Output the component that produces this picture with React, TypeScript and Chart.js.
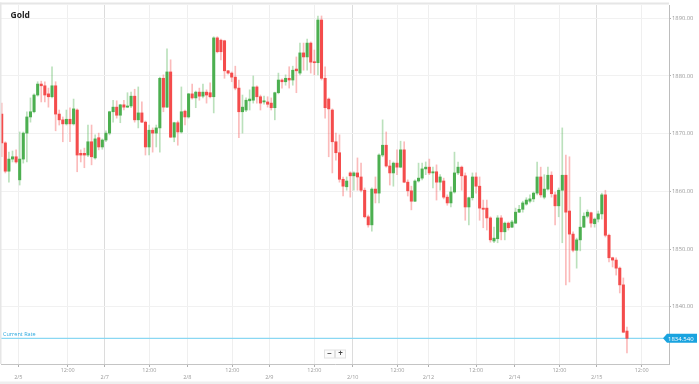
import React, { useEffect, useRef } from 'react';
import { Chart, registerables } from 'chart.js';

Chart.register(...registerables);

const chartTitle = 'Gold';
const currentRateLabel = 'Current Rate';
const currentRate = 1834.54;

const openP = [
  1873.4, 1868.4, 1863.5, 1865.6, 1866.0, 1862.0, 1865.6, 1870.1, 1872.9, 1873.8,
  1876.7, 1878.6, 1878.3, 1876.9, 1876.4, 1878.3, 1873.4, 1872.4, 1871.7, 1872.5,
  1871.7, 1874.1, 1866.6, 1866.6, 1866.3, 1868.6, 1865.8, 1869.3, 1867.7, 1868.9,
  1870.1, 1873.8, 1874.6, 1873.2, 1875.0, 1874.6, 1874.8, 1876.5, 1872.4, 1873.6,
  1872.0, 1867.7, 1870.6, 1870.1, 1871.0, 1879.6, 1874.6, 1880.7, 1869.4, 1871.9,
  1870.3, 1873.9, 1872.9, 1876.9, 1876.2, 1877.2, 1876.5, 1877.2, 1877.1, 1876.4,
  1886.6, 1886.2, 1886.1, 1880.9, 1880.5, 1879.8, 1877.9, 1873.8, 1874.1, 1875.7,
  1875.8, 1878.1, 1876.4, 1875.5, 1875.5, 1875.3, 1874.5, 1877.1, 1879.3, 1879.0,
  1879.6, 1879.3, 1881.2, 1880.5, 1884.0, 1883.3, 1885.7, 1882.4, 1882.3, 1889.7,
  1879.6, 1876.0, 1874.1, 1868.6, 1866.7, 1862.1, 1860.8, 1863.2, 1862.7, 1863.2,
  1862.5, 1860.2, 1855.6, 1854.2, 1860.4, 1859.7, 1866.3, 1868.0, 1864.4, 1863.2,
  1864.9, 1864.2, 1867.2, 1861.6, 1860.1, 1858.3, 1861.8, 1862.3, 1863.9, 1864.2,
  1863.2, 1863.4, 1861.6, 1861.8, 1859.0, 1858.0, 1859.9, 1863.2, 1864.2, 1862.7,
  1857.3, 1858.9, 1862.5, 1860.9, 1857.1, 1857.1, 1855.4, 1851.4, 1851.8, 1855.4,
  1853.0, 1854.5, 1853.8, 1854.5, 1856.4, 1856.9, 1857.8, 1858.3, 1858.7, 1859.7,
  1862.5, 1859.0, 1860.4, 1862.8, 1859.4, 1857.5, 1860.2, 1862.8, 1856.6, 1852.6,
  1849.8, 1851.6, 1853.8, 1855.7, 1856.3, 1854.4, 1855.2, 1856.1, 1859.4, 1852.4,
  1848.5, 1848.1, 1846.7, 1843.8, 1835.8,
];

const highP = [
  1875.3, 1868.6, 1866.8, 1867.0, 1867.2, 1870.3, 1870.3, 1873.8, 1876.2, 1876.9,
  1879.0, 1879.1, 1879.0, 1877.9, 1881.6, 1879.0, 1874.1, 1872.9, 1874.1, 1874.5,
  1876.0, 1874.3, 1867.2, 1867.5, 1871.5, 1871.5, 1869.8, 1870.1, 1869.1, 1870.5,
  1873.9, 1875.8, 1875.7, 1875.1, 1875.8, 1877.1, 1877.2, 1877.7, 1878.1, 1875.5,
  1872.2, 1871.5, 1871.0, 1871.5, 1879.8, 1880.2, 1884.7, 1882.8, 1872.0, 1872.2,
  1878.1, 1874.1, 1877.0, 1878.6, 1877.4, 1877.9, 1878.6, 1877.6, 1878.8, 1886.8,
  1886.8, 1886.4, 1886.2, 1881.0, 1880.7, 1881.7, 1879.3, 1876.7, 1876.2, 1877.6,
  1880.0, 1878.3, 1876.7, 1876.5, 1876.4, 1876.2, 1877.2, 1880.5, 1879.5, 1880.2,
  1881.6, 1881.7, 1883.3, 1885.7, 1885.7, 1886.4, 1885.9, 1884.5, 1890.4, 1890.4,
  1881.6, 1876.2, 1874.3, 1870.1, 1869.8, 1862.5, 1862.5, 1863.4, 1863.4, 1865.8,
  1864.9, 1860.6, 1855.9, 1860.6, 1862.5, 1866.5, 1872.4, 1870.3, 1865.4, 1865.1,
  1867.2, 1868.7, 1868.6, 1862.0, 1860.9, 1862.0, 1864.9, 1864.9, 1865.1, 1865.6,
  1864.2, 1864.6, 1862.9, 1862.3, 1859.4, 1860.8, 1866.8, 1865.1, 1864.4, 1863.2,
  1859.0, 1863.2, 1863.2, 1862.5, 1858.5, 1858.5, 1855.6, 1853.8, 1855.8, 1855.8,
  1854.7, 1854.7, 1855.0, 1857.1, 1857.6, 1858.3, 1858.9, 1859.4, 1859.9, 1865.1,
  1864.2, 1862.9, 1864.2, 1863.4, 1859.9, 1860.6, 1871.0, 1866.3, 1866.0, 1853.0,
  1851.9, 1859.0, 1856.3, 1856.8, 1856.4, 1855.4, 1856.6, 1859.7, 1860.2, 1852.6,
  1848.6, 1848.5, 1846.9, 1845.0, 1836.5,
];

const lowP = [
  1866.0, 1863.2, 1861.6, 1865.1, 1864.9, 1861.1, 1864.9, 1865.1, 1872.0, 1873.6,
  1876.5, 1875.5, 1875.5, 1874.6, 1876.2, 1870.5, 1871.5, 1868.6, 1871.5, 1868.6,
  1871.5, 1863.4, 1865.1, 1864.1, 1866.0, 1864.6, 1865.6, 1867.2, 1867.3, 1868.6,
  1869.8, 1872.0, 1872.7, 1871.9, 1874.1, 1874.5, 1874.5, 1872.0, 1871.0, 1871.9,
  1866.3, 1866.3, 1866.8, 1867.7, 1866.8, 1873.8, 1874.5, 1869.3, 1868.6, 1868.0,
  1870.1, 1871.5, 1872.7, 1876.0, 1874.5, 1875.8, 1876.2, 1875.3, 1876.2, 1873.6,
  1884.0, 1882.8, 1879.6, 1880.3, 1879.0, 1877.6, 1869.3, 1870.1, 1873.8, 1874.1,
  1875.3, 1875.3, 1874.1, 1875.1, 1874.6, 1874.1, 1872.4, 1876.9, 1877.9, 1878.4,
  1877.9, 1878.4, 1877.1, 1880.2, 1881.0, 1881.0, 1880.5, 1880.2, 1880.2, 1879.3,
  1872.7, 1866.0, 1863.2, 1865.4, 1861.6, 1859.2, 1860.2, 1859.0, 1860.2, 1860.2,
  1859.9, 1855.4, 1853.8, 1853.1, 1858.0, 1858.0, 1866.0, 1864.2, 1861.1, 1860.9,
  1862.9, 1864.1, 1861.5, 1859.2, 1856.8, 1858.2, 1861.6, 1862.0, 1862.9, 1862.9,
  1860.6, 1858.5, 1860.2, 1858.7, 1857.6, 1857.3, 1859.7, 1862.9, 1860.2, 1855.0,
  1854.2, 1858.5, 1859.7, 1855.0, 1853.7, 1853.3, 1851.2, 1851.1, 1851.1, 1851.6,
  1851.6, 1853.3, 1853.7, 1854.4, 1856.3, 1856.4, 1857.6, 1858.0, 1858.2, 1859.4,
  1859.0, 1858.7, 1860.2, 1859.0, 1854.2, 1855.6, 1851.1, 1843.8, 1844.3, 1849.5,
  1846.7, 1849.7, 1853.7, 1855.4, 1853.8, 1853.8, 1854.7, 1855.2, 1852.1, 1847.8,
  1846.9, 1845.5, 1842.4, 1835.5, 1832.0,
];

const closeP = [
  1868.4, 1863.5, 1865.6, 1866.0, 1865.1, 1865.6, 1870.1, 1872.9, 1873.8, 1876.7,
  1878.6, 1878.3, 1876.7, 1876.4, 1878.3, 1873.4, 1872.4, 1871.7, 1872.5, 1871.7,
  1874.3, 1866.3, 1866.3, 1866.3, 1868.6, 1866.0, 1869.1, 1867.7, 1868.9, 1870.1,
  1873.8, 1874.6, 1873.2, 1875.0, 1874.6, 1874.8, 1876.5, 1872.4, 1873.6, 1872.0,
  1867.7, 1870.6, 1870.1, 1871.0, 1879.6, 1874.6, 1880.7, 1869.4, 1871.9, 1870.3,
  1873.8, 1872.9, 1876.9, 1876.2, 1877.2, 1876.5, 1877.2, 1876.7, 1876.4, 1886.6,
  1884.2, 1884.2, 1880.9, 1880.5, 1879.8, 1877.9, 1873.8, 1874.6, 1875.8, 1876.0,
  1878.1, 1876.4, 1875.3, 1875.7, 1875.1, 1874.5, 1877.1, 1879.3, 1879.0, 1879.6,
  1879.3, 1881.0, 1880.9, 1884.0, 1883.3, 1885.7, 1882.4, 1882.3, 1889.7, 1879.6,
  1874.5, 1874.3, 1868.6, 1866.7, 1862.1, 1860.9, 1861.8, 1862.7, 1863.2, 1862.5,
  1860.2, 1855.6, 1854.2, 1860.4, 1859.7, 1866.3, 1868.0, 1864.4, 1863.2, 1864.9,
  1864.2, 1867.2, 1861.6, 1860.1, 1858.3, 1861.8, 1862.3, 1863.9, 1864.2, 1863.2,
  1863.4, 1861.6, 1862.5, 1859.0, 1858.0, 1859.9, 1863.2, 1864.2, 1862.7, 1857.3,
  1858.9, 1862.5, 1860.9, 1857.1, 1856.9, 1855.4, 1851.6, 1851.9, 1855.4, 1853.0,
  1854.5, 1853.7, 1854.7, 1856.4, 1856.9, 1858.0, 1858.5, 1858.7, 1859.7, 1862.5,
  1859.4, 1860.4, 1862.8, 1859.6, 1857.5, 1860.2, 1862.8, 1856.4, 1852.6, 1849.8,
  1851.6, 1853.8, 1855.7, 1856.4, 1854.5, 1855.2, 1856.1, 1859.4, 1852.4, 1848.5,
  1848.1, 1846.7, 1843.8, 1835.6, 1834.54,
];

// time axis ticks, expressed in candle units
const tickPos = [4.62, 18.37, 28.67, 41.08, 51.66, 64.18, 74.48, 87.0, 97.69, 110.1, 118.73, 132.0, 142.67, 155.2, 165.6, 178.1];
const tickText = ['2/5', '12:00', '2/7', '12:00', '2/8', '12:00', '2/9', '12:00', '2/10', '12:00', '2/12', '12:00', '2/14', '12:00', '2/15', '12:00'];
const yTicks = [1840, 1850, 1860, 1870, 1880, 1890];

const UP = '#4caf50';
const DOWN = '#f44c4c';
const UP_WICK = 'rgba(76,175,80,0.38)';
const DOWN_WICK = 'rgba(244,76,76,0.38)';
const FONT = '"Open Sans", "DejaVu Sans", sans-serif';
const strongLines = new Set(['2/7', '2/10', '2/15']);

export default function App() {
  const ref = useRef<HTMLCanvasElement | null>(null);

  useEffect(() => {
    document.body.style.margin = '0';
    const canvas = ref.current;
    if (!canvas) return;
    const idx = openP.map((_, i) => i);
    const isUp = (i: number) => closeP[i] >= openP[i];

    const overlay = {
      id: 'overlay',
      beforeDraw(chart: any) {
        const ctx = chart.ctx;
        ctx.save();
        ctx.fillStyle = '#ffffff';
        ctx.fillRect(0, 0, chart.width, chart.height);
        ctx.restore();
      },
      beforeDatasetsDraw(chart: any) {
        const ctx = chart.ctx;
        const a = chart.chartArea;
        const y = chart.scales.y.getPixelForValue(currentRate);
        ctx.save();
        ctx.strokeStyle = '#8ad8f3';
        ctx.lineWidth = 1.2;
        ctx.beginPath();
        ctx.moveTo(a.left, y);
        ctx.lineTo(a.right, y);
        ctx.stroke();
        ctx.fillStyle = '#2aa8df';
        ctx.font = '5.5px ' + FONT;
        ctx.textBaseline = 'bottom';
        ctx.textAlign = 'left';
        ctx.fillText(currentRateLabel, a.left + 2, y - 1);
        ctx.restore();
      },
      afterDraw(chart: any) {
        const ctx = chart.ctx;
        const a = chart.chartArea;
        ctx.save();
        // frame
        ctx.fillStyle = '#e6e6e6';
        ctx.fillRect(0, 2.5, a.right, 2);
        ctx.fillRect(0, 2.5, 1.5, a.bottom - 2.5);
        ctx.fillStyle = '#efefef';
        ctx.fillRect(0, 381.5, chart.width, 2.5);
        // title
        ctx.fillStyle = '#222';
        ctx.font = 'bold 8.5px ' + FONT;
        ctx.textBaseline = 'middle';
        ctx.textAlign = 'left';
        ctx.fillText(chartTitle, 10.5, 16);
        // current rate tag
        const y = chart.scales.y.getPixelForValue(currentRate);
        ctx.fillStyle = '#19a3df';
        ctx.beginPath();
        ctx.moveTo(a.right - 6, y);
        ctx.lineTo(a.right - 2, y - 4.5);
        ctx.lineTo(chart.width - 2, y - 4.5);
        ctx.lineTo(chart.width - 2, y + 4.5);
        ctx.lineTo(a.right - 2, y + 4.5);
        ctx.closePath();
        ctx.fill();
        ctx.fillStyle = '#ffffff';
        ctx.font = '6px ' + FONT;
        ctx.textAlign = 'left';
        ctx.fillText(currentRate.toFixed(3), a.right - 1, y + 0.5);
        // zoom buttons
        const cx = (a.left + a.right) / 2;
        const by = a.bottom - 14;
        ctx.fillStyle = '#fbfbfb';
        ctx.strokeStyle = '#e2e2e2';
        ctx.lineWidth = 1;
        ctx.fillRect(cx - 10.5, by, 10, 8);
        ctx.strokeRect(cx - 10.5, by, 10, 8);
        ctx.fillRect(cx + 0.5, by, 10, 8);
        ctx.strokeRect(cx + 0.5, by, 10, 8);
        ctx.fillStyle = '#444';
        ctx.font = 'bold 8px ' + FONT;
        ctx.textAlign = 'center';
        ctx.fillText('\u2212', cx - 5.5, by + 4.2);
        ctx.fillText('+', cx + 5.5, by + 4.2);
        ctx.restore();
      },
    };

    const chart = new Chart(canvas, {
      type: 'bar',
      data: {
        datasets: [
          {
            label: 'range',
            data: idx.map((i) => ({ x: i, y: [lowP[i], highP[i]] })) as any,
            backgroundColor: idx.map((i) => (isUp(i) ? UP_WICK : DOWN_WICK)),
            barThickness: 1,
            grouped: false,
            order: 2,
            borderWidth: 0,
          } as any,
          {
            label: 'body',
            data: idx.map((i) => ({ x: i, y: [openP[i], closeP[i]] })) as any,
            backgroundColor: idx.map((i) => (isUp(i) ? UP : DOWN)),
            barThickness: 2.4,
            grouped: false,
            order: 1,
            borderWidth: 0,
            minBarLength: 1,
          } as any,
        ],
      },
      options: {
        animation: false,
        responsive: false,
        maintainAspectRatio: false,
        devicePixelRatio: 1,
        layout: { padding: { left: 1, top: 5, right: 0, bottom: 0 } },
        plugins: {
          legend: { display: false },
          tooltip: { enabled: false },
          title: { display: false },
        },
        scales: {
          x: {
            type: 'linear',
            min: -0.2,
            max: 185.7,
            offset: false,
            position: 'bottom',
            afterBuildTicks: (s: any) => {
              s.ticks = tickPos.map((v) => ({ value: v }));
            },
            afterFit: (s: any) => {
              s.height = 20;
            },
            ticks: {
              autoSkip: false,
              maxRotation: 0,
              minRotation: 0,
              padding: 0,
              color: '#9a9a9a',
              font: { family: FONT, size: 5.5, lineHeight: 1.25 },
              callback: (_v: any, i: number) => {
                const t = tickText[i];
                return t.includes('/') ? ['', t] : t;
              },
            },
            grid: {
              offset: false,
              color: (c: any) => {
                const t = tickText[c.index];
                return t && strongLines.has(t) ? '#dcdcdc' : '#efefef';
              },
              tickLength: 3,
              tickColor: '#b0b0b0',
            },
            border: { color: '#c4c4c4' },
          } as any,
          y: {
            type: 'linear',
            position: 'right',
            min: 1830.09,
            max: 1892.3,
            afterBuildTicks: (s: any) => {
              s.ticks = yTicks.map((v) => ({ value: v }));
            },
            afterFit: (s: any) => {
              s.width = 30;
            },
            ticks: {
              padding: 1,
              color: '#9a9a9a',
              font: { family: FONT, size: 5.8 },
              callback: (v: any) => Number(v).toFixed(2),
            },
            grid: { color: '#f1f1f1', tickLength: 2, tickColor: '#b0b0b0' },
            border: { color: '#bdbdbd' },
          } as any,
        },
      },
      plugins: [overlay],
    });

    return () => chart.destroy();
  }, []);

  return (
    <div style={{ position: 'fixed', left: 0, top: 0, width: 699, height: 384, background: '#fff' }}>
      <canvas ref={ref} width={699} height={384} style={{ width: 699, height: 384, display: 'block' }} />
    </div>
  );
}
